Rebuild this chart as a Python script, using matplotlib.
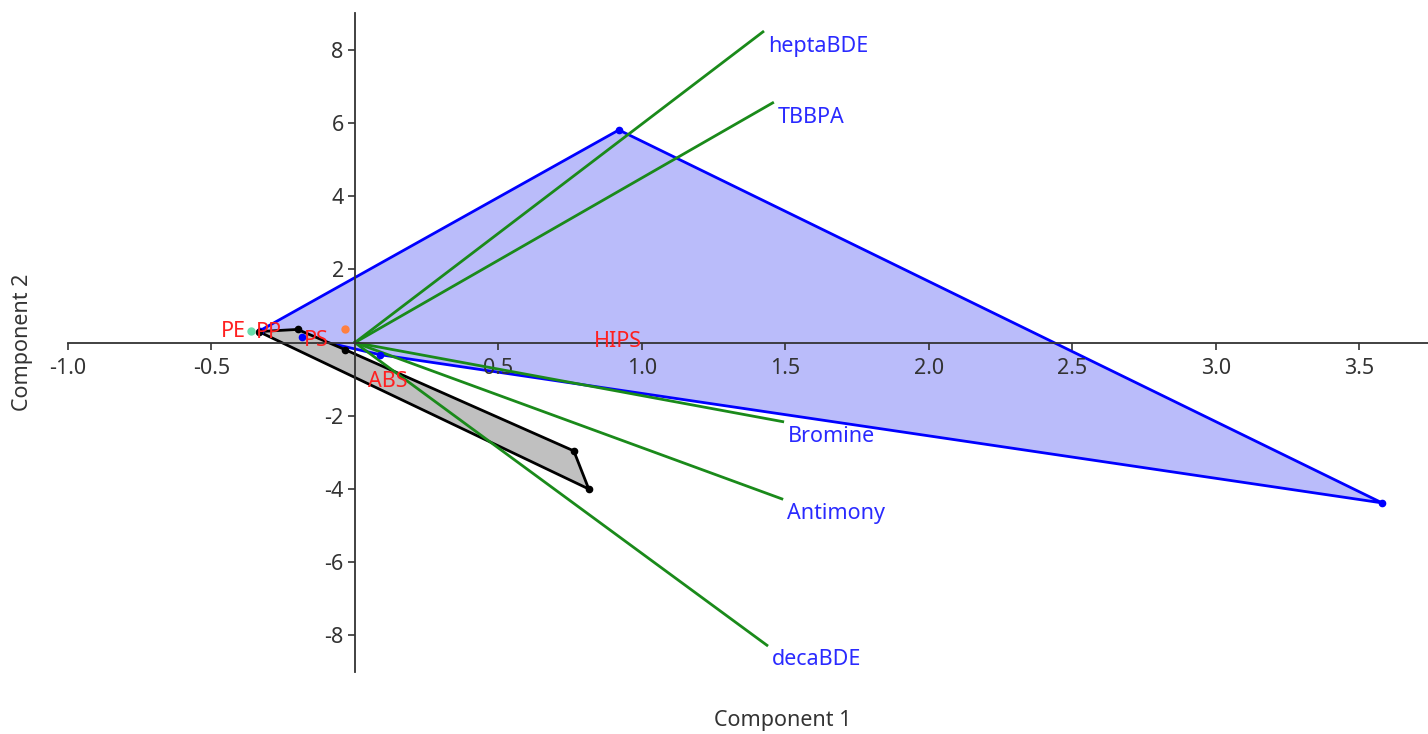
import matplotlib
matplotlib.use("Agg")
import matplotlib.pyplot as plt

plt.rcParams['font.family'] = ['Noto Sans', 'DejaVu Sans']

# sample scores (hull order) for the two polymer groups
hips_pc1 = [-0.33, -0.185, 0.087, 3.58, 0.92]
hips_pc2 = [0.33, 0.16, -0.33, -4.38, 5.81]
abs_pc1 = [-0.335, 0.815, 0.763, -0.035, -0.20]
abs_pc2 = [0.30, -4.00, -2.96, -0.19, 0.36]

# single samples
pe_score = (-0.362, 0.33)
pp_score = (-0.035, 0.36)

# sample labels
sample_names = ["PE", "PP", "PS", "ABS", "HIPS"]
sample_x = [-0.425, -0.30, -0.135, 0.115, 0.915]
sample_y = [0.30, 0.28, 0.06, -1.05, 0.03]

# variable loadings
variables = ["heptaBDE", "TBBPA", "Bromine", "Antimony", "decaBDE"]
load_pc1 = [1.422, 1.456, 1.491, 1.488, 1.436]
load_pc2 = [8.49, 6.55, -2.16, -4.27, -8.27]

fig = plt.figure(figsize=(14.28, 7.34), dpi=100)
ax = fig.add_axes([0.0476, 0.0845, 0.9524, 0.8975])

ax.fill(hips_pc1, hips_pc2, facecolor="#babcfa", edgecolor="#0000ff", lw=2, zorder=1)
ax.plot(hips_pc1, hips_pc2, "o", color="#0000ff", ms=4.5, zorder=3)

ax.fill(abs_pc1, abs_pc2, facecolor="#c0c0c0", edgecolor="black", lw=2, zorder=1.5)
ax.plot(abs_pc1, abs_pc2, "o", color="black", ms=4.5, zorder=3)

ax.plot(*pe_score, "o", color="#66ddaa", ms=5, zorder=3)
ax.plot(*pp_score, "o", color="#ff8040", ms=5, zorder=3)

for name, x, y in zip(variables, load_pc1, load_pc2):
    ax.plot([0, x], [0, y], color="#1a8a1a", lw=2, zorder=2)
    ax.annotate(name, (x, y), xytext=(3.5, -10.5), textcoords="offset points",
                color="#2a2aff", fontsize=15.5, ha="left", va="center")

for name, x, y in zip(sample_names, sample_x, sample_y):
    ax.text(x, y, name, color="#ff2020", fontsize=15.5, ha="center", va="center", zorder=4)

ax.set_xlim(-1.0, 3.74)
ax.set_ylim(-9.0, 9.0)

ax.spines['left'].set_position(('data', 0))
ax.spines['bottom'].set_position(('data', 0))
ax.spines['right'].set_visible(False)
ax.spines['top'].set_visible(False)
for s in ('left', 'bottom'):
    ax.spines[s].set_color('#333333')
    ax.spines[s].set_linewidth(1.3)
    ax.spines[s].set_zorder(2.5)

xt = [-1.0, -0.5, 0.5, 1.0, 1.5, 2.0, 2.5, 3.0, 3.5]
yt = [-8, -6, -4, -2, 2, 4, 6, 8]
ax.set_xticks(xt, [f"{v:.1f}" for v in xt])
ax.set_yticks(yt, [str(v) for v in yt])
ax.tick_params(labelsize=15.5, colors='#333333', length=5, width=1.2)
ax.tick_params(axis='x', pad=6)
ax.tick_params(axis='y', pad=3)

fig.text(0.548, 0.018, "Component 1", fontsize=15.5, color='#333333', ha='center', va='center')
fig.text(0.016, 0.533, "Component 2", fontsize=15.5, color='#333333', ha='center', va='center',
         rotation=90)

fig.savefig("out.png", dpi=100)
